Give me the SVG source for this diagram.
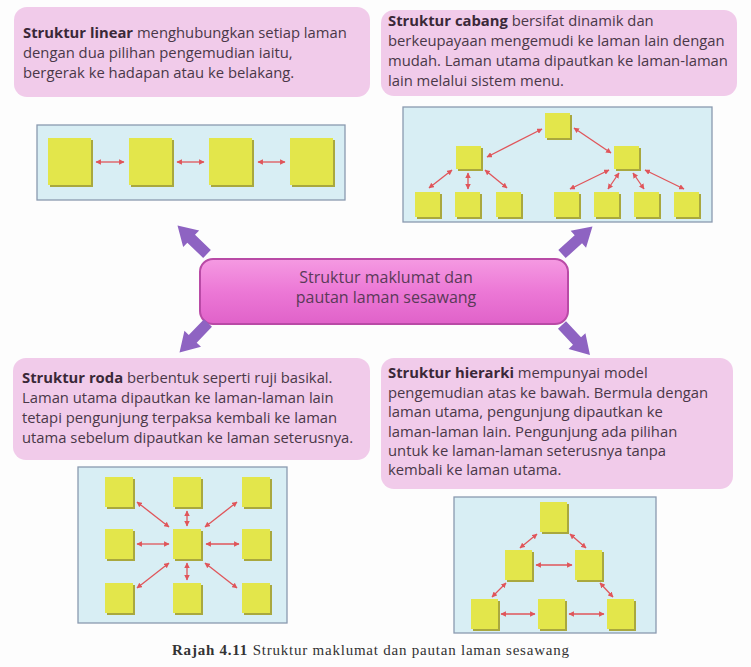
<svg xmlns="http://www.w3.org/2000/svg" width="751" height="667" viewBox="0 0 751 667">
<defs>
<style>
.box{fill:#f1cbea;}
.txt{font-family:"Open Sans","Noto Sans",sans-serif;font-size:14.8px;fill:#4a3848;}
.b{font-weight:bold;fill:#3a2838;}
.panel{fill:#d8eef4;stroke:#8a9ab0;stroke-width:1.3;}
.sq{fill:#e3e64b;}
.sh{fill:#a9a83e;}
.ra{fill:none;stroke:#e0555a;stroke-width:1.3;marker-start:url(#ah);marker-end:url(#ah);}
.pa{fill:#8e63c2;}
.cap{font-family:"Liberation Serif",serif;font-size:15px;fill:#333;}
</style>
<marker id="ah" viewBox="0 0 10 10" refX="9" refY="5" markerWidth="5.5" markerHeight="5.5" orient="auto-start-reverse" markerUnits="userSpaceOnUse">
<path d="M0,0 L10,5 L0,10 Z" fill="#e0555a"/>
</marker>
<linearGradient id="cg" x1="0" y1="0" x2="0" y2="1">
<stop offset="0" stop-color="#f59ae2"/>
<stop offset="0.5" stop-color="#ec78d6"/>
<stop offset="1" stop-color="#e062c9"/>
</linearGradient>
<path id="barrow" d="M0,-5.5 L22,-5.5 L22,-11.5 L41,0 L22,11.5 L22,5.5 L0,5.5 Z"/>
</defs>
<rect width="751" height="667" fill="#fdfdfd"/>

<g id="linear-desc">
<rect class="box" x="14" y="7" width="356" height="90" rx="13"/>
<text class="txt" x="23" y="38"><tspan class="b">Struktur linear</tspan> menghubungkan setiap laman</text>
<text class="txt" x="23" y="58">dengan dua pilihan pengemudian iaitu,</text>
<text class="txt" x="23" y="78">bergerak ke hadapan atau ke belakang.</text>
</g>

<g id="cabang-desc">
<rect class="box" x="381" y="10" width="356" height="86" rx="13"/>
<text class="txt" x="388" y="26"><tspan class="b">Struktur cabang</tspan> bersifat dinamik dan</text>
<text class="txt" x="388" y="46">berkeupayaan mengemudi ke laman lain dengan</text>
<text class="txt" x="388" y="66">mudah. Laman utama dipautkan ke laman-laman</text>
<text class="txt" x="388" y="86">lain melalui sistem menu.</text>
</g>

<g id="roda-desc">
<rect class="box" x="13" y="358" width="357" height="102" rx="13"/>
<text class="txt" x="22" y="383"><tspan class="b">Struktur roda</tspan> berbentuk seperti ruji basikal.</text>
<text class="txt" x="22" y="403">Laman utama dipautkan ke laman-laman lain</text>
<text class="txt" x="22" y="423">tetapi pengunjung terpaksa kembali ke laman</text>
<text class="txt" x="22" y="443">utama sebelum dipautkan ke laman seterusnya.</text>
</g>

<g id="hierarki-desc">
<rect class="box" x="381" y="358" width="352" height="131" rx="13"/>
<text class="txt" x="388" y="378"><tspan class="b">Struktur hierarki</tspan> mempunyai model</text>
<text class="txt" x="388" y="398">pengemudian atas ke bawah. Bermula dengan</text>
<text class="txt" x="388" y="417">laman utama, pengunjung dipautkan ke</text>
<text class="txt" x="388" y="437">laman-laman lain. Pengunjung ada pilihan</text>
<text class="txt" x="388" y="456">untuk ke laman-laman seterusnya tanpa</text>
<text class="txt" x="388" y="475">kembali ke laman utama.</text>
</g>

<g id="center">
<rect x="200" y="259" width="368" height="65" rx="13" fill="url(#cg)" stroke="#b94aa6" stroke-width="2"/>
<text x="386" y="283" text-anchor="middle" font-family="'Open Sans','Noto Sans',sans-serif" font-size="16" fill="#5a3a58">Struktur maklumat dan</text>
<text x="386" y="303" text-anchor="middle" font-family="'Open Sans','Noto Sans',sans-serif" font-size="16" fill="#5a3a58">pautan laman sesawang</text>
</g>

<g id="linear-diagram">
<rect class="panel" x="37" y="125" width="308" height="75"/>
<rect class="sh" x="50" y="140" width="43" height="47"/><rect class="sq" x="48" y="138" width="43" height="47"/>
<rect class="sh" x="131" y="140" width="43" height="47"/><rect class="sq" x="129" y="138" width="43" height="47"/>
<rect class="sh" x="211" y="140" width="43" height="47"/><rect class="sq" x="209" y="138" width="43" height="47"/>
<rect class="sh" x="292" y="140" width="43" height="47"/><rect class="sq" x="290" y="138" width="43" height="47"/>
</g>

<g id="cabang-diagram">
<rect class="panel" x="403" y="107" width="309" height="115"/>
<rect class="sh" x="547" y="115" width="25" height="25"/><rect class="sq" x="545" y="113" width="25" height="25"/>
<rect class="sh" x="458" y="148" width="25" height="23"/><rect class="sq" x="456" y="146" width="25" height="23"/>
<rect class="sh" x="616" y="148" width="25" height="23"/><rect class="sq" x="614" y="146" width="25" height="23"/>
<rect class="sh" x="417" y="194" width="25" height="25"/><rect class="sq" x="415" y="192" width="25" height="25"/>
<rect class="sh" x="457" y="194" width="25" height="25"/><rect class="sq" x="455" y="192" width="25" height="25"/>
<rect class="sh" x="498" y="194" width="25" height="25"/><rect class="sq" x="496" y="192" width="25" height="25"/>
<rect class="sh" x="556" y="194" width="25" height="25"/><rect class="sq" x="554" y="192" width="25" height="25"/>
<rect class="sh" x="596" y="194" width="25" height="25"/><rect class="sq" x="594" y="192" width="25" height="25"/>
<rect class="sh" x="636" y="194" width="25" height="25"/><rect class="sq" x="634" y="192" width="25" height="25"/>
<rect class="sh" x="676" y="194" width="25" height="25"/><rect class="sq" x="674" y="192" width="25" height="25"/>
</g>

<g id="roda-diagram">
<rect class="panel" x="78" y="467" width="209" height="156"/>
<rect class="sh" x="107" y="479" width="28" height="30"/><rect class="sq" x="105" y="477" width="28" height="30"/>
<rect class="sh" x="175" y="479" width="28" height="30"/><rect class="sq" x="173" y="477" width="28" height="30"/>
<rect class="sh" x="244" y="479" width="28" height="30"/><rect class="sq" x="242" y="477" width="28" height="30"/>
<rect class="sh" x="107" y="531" width="28" height="30"/><rect class="sq" x="105" y="529" width="28" height="30"/>
<rect class="sh" x="175" y="531" width="28" height="30"/><rect class="sq" x="173" y="529" width="28" height="30"/>
<rect class="sh" x="244" y="531" width="28" height="30"/><rect class="sq" x="242" y="529" width="28" height="30"/>
<rect class="sh" x="107" y="585" width="28" height="30"/><rect class="sq" x="105" y="583" width="28" height="30"/>
<rect class="sh" x="175" y="585" width="28" height="30"/><rect class="sq" x="173" y="583" width="28" height="30"/>
<rect class="sh" x="244" y="585" width="28" height="30"/><rect class="sq" x="242" y="583" width="28" height="30"/>
</g>

<g id="hierarki-diagram">
<rect class="panel" x="454" y="497" width="202" height="136"/>
<rect class="sh" x="542" y="504" width="27" height="30"/><rect class="sq" x="540" y="502" width="27" height="30"/>
<rect class="sh" x="507" y="552" width="27" height="30"/><rect class="sq" x="505" y="550" width="27" height="30"/>
<rect class="sh" x="577" y="552" width="27" height="30"/><rect class="sq" x="575" y="550" width="27" height="30"/>
<rect class="sh" x="473" y="601" width="27" height="30"/><rect class="sq" x="471" y="599" width="27" height="30"/>
<rect class="sh" x="540" y="601" width="27" height="30"/><rect class="sq" x="538" y="599" width="27" height="30"/>
<rect class="sh" x="609" y="601" width="27" height="30"/><rect class="sq" x="607" y="599" width="27" height="30"/>
</g>

<g id="connectors">
<!-- linear -->
<line class="ra" x1="96" y1="162" x2="124" y2="162"/>
<line class="ra" x1="177" y1="162" x2="204" y2="162"/>
<line class="ra" x1="258" y1="162" x2="285" y2="162"/>
<!-- cabang -->
<line class="ra" x1="542" y1="129" x2="487" y2="157"/>
<line class="ra" x1="574" y1="128" x2="611" y2="153"/>
<line class="ra" x1="452" y1="170" x2="429" y2="188"/>
<line class="ra" x1="468" y1="173" x2="468" y2="189"/>
<line class="ra" x1="485" y1="170" x2="507" y2="188"/>
<line class="ra" x1="609" y1="170" x2="570" y2="189"/>
<line class="ra" x1="619" y1="173" x2="608" y2="189"/>
<line class="ra" x1="633" y1="173" x2="644" y2="189"/>
<line class="ra" x1="645" y1="170" x2="684" y2="189"/>
<!-- roda -->
<line class="ra" x1="137" y1="544" x2="169" y2="544"/>
<line class="ra" x1="206" y1="544" x2="239" y2="544"/>
<line class="ra" x1="187" y1="511" x2="187" y2="526"/>
<line class="ra" x1="187" y1="563" x2="187" y2="580"/>
<line class="ra" x1="137" y1="502" x2="169" y2="527"/>
<line class="ra" x1="237" y1="502" x2="205" y2="527"/>
<line class="ra" x1="169" y1="563" x2="137" y2="588"/>
<line class="ra" x1="205" y1="563" x2="237" y2="588"/>
<!-- hierarki -->
<line class="ra" x1="537" y1="534" x2="520" y2="548"/>
<line class="ra" x1="570" y1="534" x2="586" y2="548"/>
<line class="ra" x1="536" y1="565" x2="572" y2="565"/>
<line class="ra" x1="506" y1="583" x2="492" y2="597"/>
<line class="ra" x1="600" y1="583" x2="613" y2="597"/>
<line class="ra" x1="501" y1="614" x2="535" y2="614"/>
<line class="ra" x1="569" y1="614" x2="604" y2="614"/>
<!-- purple block arrows from centre -->
<use href="#barrow" class="pa" transform="translate(207,254) rotate(-136)"/>
<use href="#barrow" class="pa" transform="translate(562,254) rotate(-42)"/>
<use href="#barrow" class="pa" transform="translate(208,323) rotate(134)"/>
<use href="#barrow" class="pa" transform="translate(562,325) rotate(47)"/>
</g>

<g id="caption">
<text class="cap" x="172" y="655" textLength="397" lengthAdjust="spacing"><tspan font-weight="bold">Rajah 4.11</tspan>  Struktur maklumat dan pautan laman sesawang</text>
</g>
</svg>
